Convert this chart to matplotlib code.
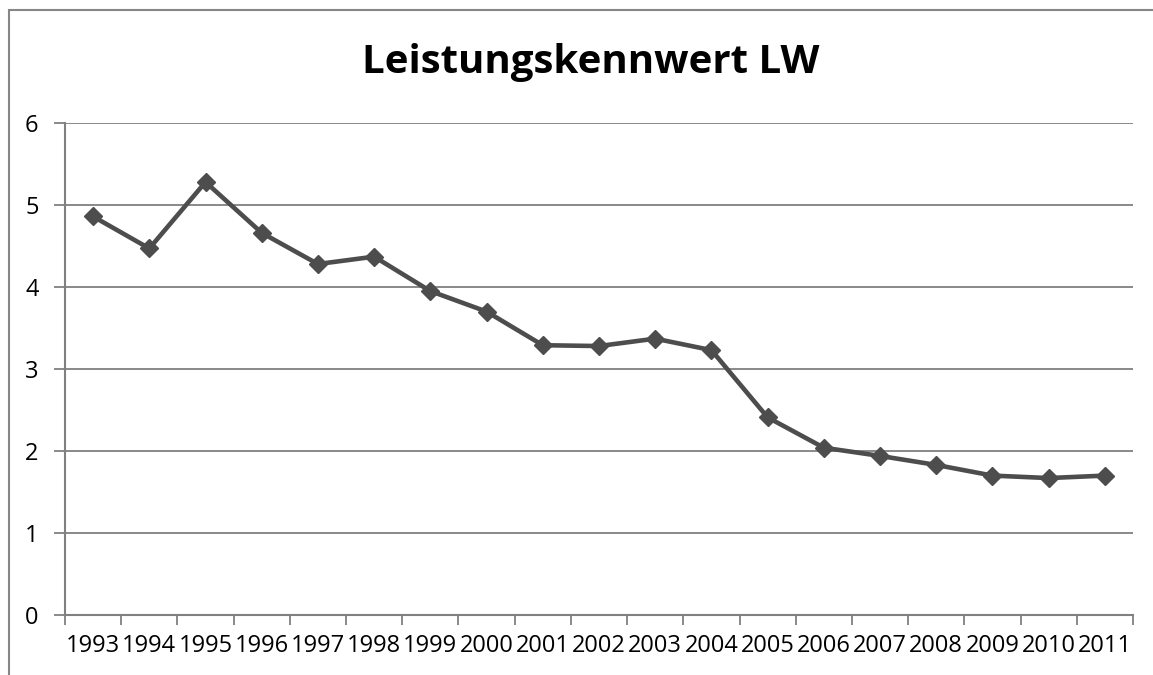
import matplotlib
matplotlib.use("Agg")
import matplotlib.pyplot as plt
from matplotlib.patches import Rectangle
import numpy as np

years = ["1993", "1994", "1995", "1996", "1997", "1998", "1999", "2000", "2001", "2002",
         "2003", "2004", "2005", "2006", "2007", "2008", "2009", "2010", "2011"]
values = [4.86, 4.47, 5.28, 4.66, 4.28, 4.37, 3.95, 3.70, 3.29, 3.28,
          3.37, 3.23, 2.41, 2.04, 1.94, 1.83, 1.70, 1.67, 1.70]
yticks = [0, 1, 2, 3, 4, 5, 6]
title = "Leistungskennwert LW"

plt.rcParams['font.family'] = ['Open Sans', 'DejaVu Sans']

W, H = 1153, 675
fig = plt.figure(figsize=(W / 100, H / 100), dpi=100)
ax = fig.add_axes([65 / W, 1 - 615 / H, (1133 - 65) / W, (615 - 123) / H])

x = np.arange(len(years))
ax.plot(x, values, color="#4d4d4d", lw=3.3, marker="D", markersize=9,
        markerfacecolor="#4d4d4d", markeredgecolor="#4d4d4d", zorder=3)

ax.set_xlim(-0.5, len(years) - 0.5)
ax.set_ylim(0, 6)
ax.set_yticks(yticks)
ax.set_yticklabels([str(v) for v in yticks])
ax.set_xticks(x)
ax.set_xticklabels(years)
ax.set_xticks(np.arange(len(years) + 1) - 0.5, minor=True)
ax.tick_params(axis="x", which="major", length=0, labelsize=17, pad=14, colors="black")
ax.tick_params(axis="x", which="minor", length=7, width=1.3, color="#808080")
ax.tick_params(axis="y", length=8, width=1.3, color="#808080", labelsize=17, pad=11)

ax.grid(axis="y", color="#808080", lw=1.3)
ax.set_axisbelow(True)
for s in ["top", "right"]:
    ax.spines[s].set_visible(False)
for s in ["left", "bottom"]:
    ax.spines[s].set_color("#808080")
    ax.spines[s].set_linewidth(1.5)

fig.text(591 / W, 1 - 62 / H, title, ha="center", va="center",
         fontsize=29, fontweight="bold", color="black")

border = Rectangle((9 / W, -0.1), 1.2, 1 - 10.5 / H + 0.1, transform=fig.transFigure,
                   fill=False, edgecolor="#868686", lw=1.5, clip_on=False)
fig.patches.append(border)

fig.savefig("out.png", dpi=100)
